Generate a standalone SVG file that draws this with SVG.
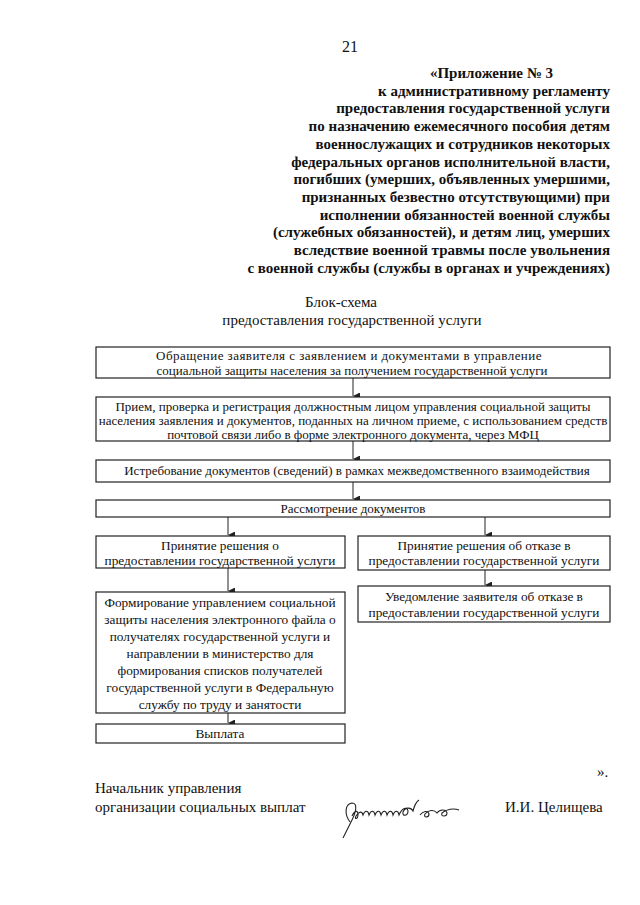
<svg xmlns="http://www.w3.org/2000/svg" width="640" height="905" viewBox="0 0 640 905">
<defs>
<style>
.hd{font-family:"Liberation Serif","Times New Roman",serif;font-size:15px;font-weight:bold;fill:#111;text-anchor:end}
.t{font-family:"Liberation Serif","Times New Roman",serif;font-size:13px;fill:#111;text-anchor:middle}
.s{font-size:13.3px}
.ti{font-family:"Liberation Serif","Times New Roman",serif;font-size:15px;fill:#111;text-anchor:middle}
.ft{font-family:"Liberation Serif","Times New Roman",serif;font-size:15px;fill:#111}
.box{fill:#fff;stroke:#222;stroke-width:1.2}
.ln{stroke:#222;stroke-width:1;fill:none}
</style>
<marker id="ah" viewBox="0 0 7 7" refX="3.5" refY="7" markerWidth="7" markerHeight="7" orient="auto-start-reverse" markerUnits="userSpaceOnUse">
<path d="M0,0 L7,0 L3.5,7 Z" fill="#222"/>
</marker>
</defs>
<rect width="640" height="905" fill="#fff"/>

<text x="350" y="52" class="ft" text-anchor="middle" style="font-size:16px">21</text>

<g id="header">
<text class="hd" x="553" y="78">«Приложение № 3</text>
<text class="hd" x="610" y="95.7">к административному регламенту</text>
<text class="hd" x="610" y="113.4">предоставления государственной услуги</text>
<text class="hd" x="610" y="131.1">по назначению ежемесячного пособия детям</text>
<text class="hd" x="610" y="148.8">военнослужащих и сотрудников некоторых</text>
<text class="hd" x="610" y="166.5">федеральных органов исполнительной власти,</text>
<text class="hd" x="610" y="184.2">погибших (умерших, объявленных умершими,</text>
<text class="hd" x="610" y="201.9">признанных безвестно отсутствующими) при</text>
<text class="hd" x="610" y="219.6">исполнении обязанностей военной службы</text>
<text class="hd" x="610" y="237.3">(служебных обязанностей), и детям лиц, умерших</text>
<text class="hd" x="610" y="255">вследствие военной травмы после увольнения</text>
<text class="hd" x="610" y="272.7">с военной службы (службы в органах и учреждениях)</text>
</g>

<g id="title">
<text class="ti" x="341" y="307">Блок-схема</text>
<text class="ti" x="352" y="325">предоставления государственной услуги</text>
</g>

<g id="connectors">
<line class="ln" x1="353" y1="378" x2="353" y2="396" marker-end="url(#ah)"/>
<line class="ln" x1="353" y1="441" x2="353" y2="459" marker-end="url(#ah)"/>
<line class="ln" x1="353" y1="482" x2="353" y2="499" marker-end="url(#ah)"/>
<line class="ln" x1="228" y1="517" x2="228" y2="535" marker-end="url(#ah)"/>
<line class="ln" x1="485" y1="517" x2="485" y2="535" marker-end="url(#ah)"/>
<line class="ln" x1="228" y1="568" x2="228" y2="591" marker-end="url(#ah)"/>
<line class="ln" x1="485" y1="570" x2="485" y2="585" marker-end="url(#ah)"/>
<line class="ln" x1="228" y1="713" x2="228" y2="723" marker-end="url(#ah)"/>
</g>

<g id="n1">
<rect class="box" x="96" y="347" width="514" height="31"/>
<text class="t" x="349" y="360" letter-spacing="0.45">Обращение заявителя с заявлением и документами в управление</text>
<text class="t" x="352" y="375">социальной защиты населения за получением государственной услуги</text>
</g>
<g id="n2">
<rect class="box" x="96" y="397" width="514" height="44"/>
<text class="t" x="353" y="411">Прием, проверка и регистрация должностным лицом управления социальной защиты</text>
<text class="t" x="353" y="425">населения заявления и документов, поданных на личном приеме, с использованием средств</text>
<text class="t" x="353" y="439">почтовой связи либо в форме электронного документа, через МФЦ</text>
</g>
<g id="n3">
<rect class="box" x="96" y="460" width="514" height="22"/>
<text class="t" x="357" y="475">Истребование документов (сведений) в рамках межведомственного взаимодействия</text>
</g>
<g id="n4">
<rect class="box" x="96" y="500" width="514" height="17"/>
<text class="t" x="353" y="513">Рассмотрение документов</text>
</g>
<g id="n5">
<rect class="box" x="96" y="536" width="249" height="32"/>
<text class="t s" x="220" y="550">Принятие решения о</text>
<text class="t s" x="220" y="565">предоставлении государственной услуги</text>
</g>
<g id="n6">
<rect class="box" x="358" y="536" width="252" height="34"/>
<text class="t s" x="484" y="550">Принятие решения об отказе в</text>
<text class="t s" x="484" y="565">предоставлении государственной услуги</text>
</g>
<g id="n7">
<rect class="box" x="96" y="592" width="249" height="121"/>
<text class="t s" x="220" y="607">Формирование управлением социальной</text>
<text class="t s" x="220" y="624">защиты населения электронного файла о</text>
<text class="t s" x="220" y="641">получателях государственной услуги и</text>
<text class="t s" x="220" y="658">направлении в министерство для</text>
<text class="t s" x="220" y="675">формирования списков получателей</text>
<text class="t s" x="220" y="692">государственной услуги в Федеральную</text>
<text class="t s" x="220" y="709">службу по труду и занятости</text>
</g>
<g id="n8">
<rect class="box" x="358" y="586" width="252" height="36"/>
<text class="t s" x="484" y="601">Уведомление заявителя об отказе в</text>
<text class="t s" x="484" y="617">предоставлении государственной услуги</text>
</g>
<g id="n9">
<rect class="box" x="96" y="724" width="249" height="19"/>
<text class="t s" x="220" y="738">Выплата</text>
</g>

<g id="footer">
<text class="ft" x="597" y="777">».</text>
<text class="ft" x="95" y="793">Начальник управления</text>
<text class="ft" x="95" y="812">организации социальных выплат</text>
<text class="ft" x="505" y="812">И.И. Целищева</text>
<path d="M350,822 C344,814 345,804 352,803 C358,803 356,812 352,820 C348,828 345,834 343,838 M352,816 c3,-6 6,-6 6,-1 c0,4 -4,5 -2,1 c3,-5 6,-5 7,-1 c2,-5 5,-5 6,0 c2,-5 5,-5 6,0 c2,-5 5,-5 6,0 c2,-5 5,-5 6,0 c2,-5 5,-5 6,0 c2,-5 5,-5 6,0 c3,-7 8,-9 9,-4 c0,5 -6,6 -5,1 c2,-5 8,-5 10,-1 c1,-4 3,-9 6,-11 M420,815 c3,-4 8,-5 9,-1 c0,4 -6,4 -4,0 c3,-4 9,-5 12,-1 c3,-4 9,-4 10,0 c0,4 -7,4 -5,0 c4,-4 12,-5 17,-3" fill="none" stroke="#222" stroke-width="1.1"/>
</g>
</svg>
